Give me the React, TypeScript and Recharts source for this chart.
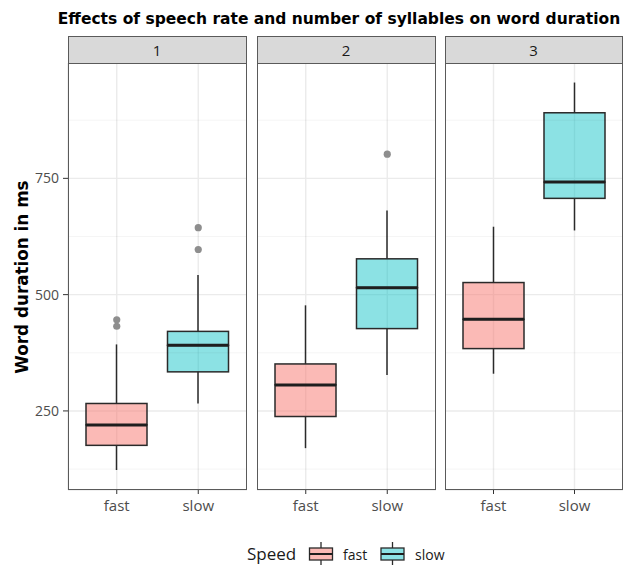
import React from 'react';
import { ComposedChart, Bar, Line, XAxis, YAxis, CartesianGrid, ReferenceLine } from 'recharts';

// ---- data ----
const facets = ['1', '2', '3'];
const speeds = ['fast', 'slow'];
const lowerWhisker = [[123, 266], [170, 327], [330, 638]];
const q1 = [[176, 334], [238, 427], [384, 707]];
const median = [[220, 391], [306, 515], [447, 742]];
const q3 = [[266, 421], [351, 577], [526, 891]];
const upperWhisker = [[393, 542], [477, 681], [646, 956]];
const outliers = [[[446, 432], [644, 597]], [[], [802]], [[], []]];
const yTicks = [250, 500, 750];
const minorTicks = [125, 375, 625, 875];
const yDomain = [80, 998];

const title = 'Effects of speech rate and number of syllables on word duration';
const yLabel = 'Word duration in ms';
const legendTitle = 'Speed';

// ---- style ----
const FONT = "'Open Sans', sans-serif";
const BOLD_FONT = "'DejaVu Sans', sans-serif";
const fillColors: Record<string, string> = { fast: '#F8766D', slow: '#00BFC4' };
const fillOpacity: Record<string, number> = { fast: 0.5, slow: 0.45 };
const OUTLINE = '#2a2a2a';

const PANEL_TOP = 63;
const PANEL_H = 427;
const XAXIS_H = 30;
const panelLefts = [68, 257, 445];
const panelWidths = [179, 179, 178];
const YAXIS_W = 68;

function buildRows(f: number) {
  return speeds.map((s, i) => ({
    speed: s,
    base: lowerWhisker[f][i],
    whiskLo: q1[f][i] - lowerWhisker[f][i],
    boxLo: median[f][i] - q1[f][i],
    boxHi: q3[f][i] - median[f][i],
    whiskHi: upperWhisker[f][i] - q3[f][i],
    out1: outliers[f][i][0] ?? null,
    out2: outliers[f][i][1] ?? null,
  }));
}

const Empty = () => <g />;

const Whisker = (p: any) => (
  <line
    x1={p.x + p.width / 2}
    x2={p.x + p.width / 2}
    y1={p.y}
    y2={p.y + p.height}
    stroke={OUTLINE}
    strokeWidth={1.5}
  />
);

const BoxLo = (p: any) => (
  <rect
    x={p.x}
    y={p.y}
    width={p.width}
    height={p.height}
    fill={fillColors[p.payload.speed]}
    fillOpacity={fillOpacity[p.payload.speed]}
    stroke={OUTLINE}
    strokeWidth={1.5}
  />
);

const BoxHi = (p: any) => (
  <g>
    <rect
      x={p.x}
      y={p.y}
      width={p.width}
      height={p.height}
      fill={fillColors[p.payload.speed]}
      fillOpacity={fillOpacity[p.payload.speed]}
      stroke={OUTLINE}
      strokeWidth={1.5}
    />
    <line
      x1={p.x}
      x2={p.x + p.width}
      y1={p.y + p.height}
      y2={p.y + p.height}
      stroke="#1e1e1e"
      strokeWidth={3}
    />
  </g>
);

function Panel({ f }: { f: number }) {
  const first = f === 0;
  const yw = first ? YAXIS_W : 0;
  const width = panelWidths[f] + yw;
  const left = panelLefts[f] - yw;
  const rows = buildRows(f);
  return (
    <div style={{ position: 'absolute', left, top: PANEL_TOP }}>
      <ComposedChart
        width={width}
        height={PANEL_H + XAXIS_H}
        data={rows}
        margin={{ top: 0, right: 0, bottom: 0, left: 0 }}
      >
        <CartesianGrid stroke="#ebebeb" strokeWidth={1.4} />
        {minorTicks.map((t) => (
          <ReferenceLine key={t} y={t} stroke="#000" strokeOpacity={0.045} strokeWidth={1} />
        ))}
        <XAxis
          dataKey="speed"
          type="category"
          padding={{ left: 8, right: 8 }}
          height={XAXIS_H}
          axisLine={false}
          tickSize={4}
          tickMargin={6}
          tickLine={{ stroke: '#333', strokeWidth: 1 }}
          tick={{ fill: '#4d4d4d', fontSize: 15, fontFamily: FONT }}
          interval={0}
        />
        <YAxis
          type="number"
          domain={yDomain}
          allowDataOverflow
          ticks={yTicks}
          hide={!first}
          width={yw}
          axisLine={false}
          tickSize={5}
          tickMargin={4}
          tickLine={{ stroke: '#333', strokeWidth: 1 }}
          tick={{ fill: '#4d4d4d', fontSize: 14, fontFamily: FONT }}
        />
        <Bar dataKey="base" stackId="b" barSize={61} shape={Empty} isAnimationActive={false} />
        <Bar dataKey="whiskLo" stackId="b" barSize={61} shape={Whisker} isAnimationActive={false} />
        <Bar dataKey="boxLo" stackId="b" barSize={61} shape={BoxLo} isAnimationActive={false} />
        <Bar dataKey="boxHi" stackId="b" barSize={61} shape={BoxHi} isAnimationActive={false} />
        <Bar dataKey="whiskHi" stackId="b" barSize={61} shape={Whisker} isAnimationActive={false} />
        <Line
          dataKey="out1"
          stroke="none"
          dot={{ r: 3.6, fill: '#8e8e8e', stroke: 'none' }}
          activeDot={false}
          isAnimationActive={false}
        />
        <Line
          dataKey="out2"
          stroke="none"
          dot={{ r: 3.6, fill: '#8e8e8e', stroke: 'none' }}
          activeDot={false}
          isAnimationActive={false}
        />
      </ComposedChart>
      {/* panel border */}
      <div
        style={{
          position: 'absolute',
          left: yw - 0.5,
          top: 0,
          width: panelWidths[f],
          height: PANEL_H,
          border: '1px solid #5a5a5a',
          boxSizing: 'border-box',
          pointerEvents: 'none',
        }}
      />
    </div>
  );
}

function Strip({ f }: { f: number }) {
  return (
    <div
      style={{
        position: 'absolute',
        left: panelLefts[f] - 0.5,
        top: 36,
        width: panelWidths[f],
        height: 28,
        background: '#d9d9d9',
        border: '1px solid #5a5a5a',
        boxSizing: 'border-box',
        display: 'flex',
        alignItems: 'center',
        justifyContent: 'center',
        fontFamily: FONT,
        fontSize: 15,
        color: '#1a1a1a',
      }}
    >
      {facets[f]}
    </div>
  );
}

function LegendKey({ x, speed }: { x: number; speed: string }) {
  const w = 23;
  const cx = x + w / 2;
  return (
    <g>
      <line x1={cx} x2={cx} y1={542} y2={548} stroke={OUTLINE} strokeWidth={1.3} />
      <line x1={cx} x2={cx} y1={560} y2={565} stroke={OUTLINE} strokeWidth={1.3} />
      <rect
        x={x}
        y={548}
        width={w}
        height={12}
        fill={fillColors[speed]}
        fillOpacity={fillOpacity[speed]}
        stroke={OUTLINE}
        strokeWidth={1.3}
      />
      <line x1={x} x2={x + w} y1={554} y2={554} stroke="#1e1e1e" strokeWidth={2} />
    </g>
  );
}

export default function App() {
  return (
    <div
      style={{
        position: 'absolute',
        left: 0,
        top: 0,
        width: 628,
        height: 572,
        background: '#fff',
        overflow: 'hidden',
      }}
    >
      <svg
        width={628}
        height={572}
        style={{ position: 'absolute', left: 0, top: 0 }}
      >
        <text
          x={339}
          y={24}
          textAnchor="middle"
          fontFamily={BOLD_FONT}
          fontWeight="bold"
          fontSize={15.5}
          fill="#000"
        >
          {title}
        </text>
        <text
          transform="translate(28,277) rotate(-90)"
          textAnchor="middle"
          fontFamily={BOLD_FONT}
          fontWeight="bold"
          fontSize={16.8}
          fill="#000"
        >
          {yLabel}
        </text>
        <text x={247} y={560} fontFamily={FONT} fontSize={17} fill="#1a1a1a">
          {legendTitle}
        </text>
        <LegendKey x={309.5} speed="fast" />
        <text x={343} y={560} fontFamily={FONT} fontSize={14} fill="#1a1a1a">
          {speeds[0]}
        </text>
        <LegendKey x={381} speed="slow" />
        <text x={415} y={560} fontFamily={FONT} fontSize={14} fill="#1a1a1a">
          {speeds[1]}
        </text>
      </svg>
      {facets.map((_, f) => (
        <Strip key={'s' + f} f={f} />
      ))}
      {facets.map((_, f) => (
        <Panel key={'p' + f} f={f} />
      ))}
    </div>
  );
}
